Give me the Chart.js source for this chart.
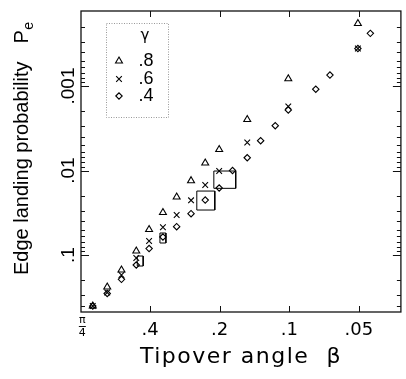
<!DOCTYPE html>
<html><head><meta charset="utf-8">
<script src="https://cdn.jsdelivr.net/npm/chart.js@4.4.1/dist/chart.umd.min.js"></script>
<style>html,body{margin:0;padding:0;background:#fff;overflow:hidden}canvas{display:block}</style>
</head><body>
<canvas id="c" width="406" height="379"></canvas>
<script>
// ---- data ----
const triBeta   = [0.708, 0.613, 0.532, 0.459, 0.404, 0.352, 0.307, 0.266, 0.231, 0.201, 0.152, 0.101, 0.0505];
const triP      = [0.402, 0.239, 0.1505, 0.0897, 0.0499, 0.0314, 0.0206, 0.0132, 0.00815, 0.00564, 0.00249, 0.00082, 0.000182];
const crossBeta = [0.708, 0.613, 0.532, 0.459, 0.404, 0.352, 0.307, 0.266, 0.231, 0.201, 0.152, 0.101, 0.0505];
const crossP    = [0.402, 0.278, 0.1725, 0.1085, 0.0683, 0.047, 0.0336, 0.02254, 0.01485, 0.01014, 0.00466, 0.00174, 0.00036];
const diamBeta  = [0.708, 0.613, 0.532, 0.459, 0.404, 0.352, 0.307, 0.266, 0.231, 0.201, 0.176, 0.152, 0.133, 0.115, 0.101, 0.0768, 0.0667, 0.0505, 0.0446];
const diamP     = [0.402, 0.2855, 0.194, 0.1313, 0.0838, 0.0612, 0.0462, 0.0324, 0.02235, 0.0161, 0.01, 0.00706, 0.00444, 0.00295, 0.00192, 0.00109, 0.000741, 0.00036, 0.000238];
// rectangles (experimental ranges)
const boxBetaHi = [0.4545, 0.3626, 0.2512, 0.212];
const boxBetaLo = [0.4285, 0.3418, 0.210, 0.1705];
const boxPLo    = [0.1028, 0.0549, 0.0175, 0.01014];
const boxPHi    = [0.135, 0.0721, 0.02935, 0.01625];
// legend
const seriesNames = ['.8', '.6', '.4'];
const legendTitle = 'γ';
// axes
const xTickValues = [Math.PI / 4, 0.4, 0.2, 0.1, 0.05];
const xTickLabels = ['', '.4', '.2', '.1', '.05'];
const yTickValues = [0.1, 0.01, 0.001];
const yTickLabels = ['.1', '.01', '.001'];
const xMin = 0.0329, xMax = 0.796;
const yMin = 1.294e-4, yMax = 0.4727;
const xTitle = 'Tipover angle  β';
const yTitle = 'Edge landing probability';

const pts = (xs, ys) => xs.map((x, i) => ({x: x, y: ys[i]}));
const boxDatasets = boxBetaHi.map((hi, i) => ({
  data: [{x: hi, y: boxPLo[i]}, {x: boxBetaLo[i], y: boxPLo[i]}, {x: boxBetaLo[i], y: boxPHi[i]}, {x: hi, y: boxPHi[i]}, {x: hi, y: boxPLo[i]}],
  showLine: true, borderColor: '#000', borderWidth: 1, pointRadius: 0, fill: false, tension: 0
}));
const markerBase = {borderColor: '#000', backgroundColor: 'rgba(0,0,0,0)', pointBorderColor: '#000', pointBackgroundColor: 'rgba(0,0,0,0)', pointBorderWidth: 1.1, showLine: false};

function drawMarker(ctx, style, x, y, r) {
  ctx.beginPath();
  if (style === 'triangle') {
    for (let k = 0; k < 3; k++) {
      const a = k * 2 * Math.PI / 3;
      const px = x + Math.sin(a) * r, py = y - Math.cos(a) * r;
      if (k === 0) ctx.moveTo(px, py); else ctx.lineTo(px, py);
    }
    ctx.closePath();
  } else if (style === 'crossRot') {
    const d = Math.cos(Math.PI / 4) * r;
    ctx.moveTo(x - d, y - d); ctx.lineTo(x + d, y + d);
    ctx.moveTo(x - d, y + d); ctx.lineTo(x + d, y - d);
  } else {
    ctx.moveTo(x - r, y); ctx.lineTo(x, y - r); ctx.lineTo(x + r, y); ctx.lineTo(x, y + r); ctx.closePath();
  }
  ctx.stroke();
}

const decor = {
  id: 'decor',
  afterDraw(chart) {
    const ctx = chart.ctx, a = chart.chartArea;
    const xs = chart.scales.x, ys = chart.scales.y;
    ctx.save();
    ctx.strokeStyle = '#111'; ctx.lineWidth = 1.3;
    ctx.strokeRect(a.left, a.top, a.right - a.left, a.bottom - a.top);
    ctx.lineWidth = 1;
    // x ticks (bottom and top)
    xTickValues.slice(1).forEach(v => {
      const px = Math.round(xs.getPixelForValue(v)) + 0.5;
      ctx.beginPath();
      ctx.moveTo(px, a.bottom); ctx.lineTo(px, a.bottom - 6);
      ctx.moveTo(px, a.top); ctx.lineTo(px, a.top + 6);
      ctx.stroke();
    });
    // y ticks major + minor (left and right)
    const yTicksAll = [];
    [1e-4, 1e-3, 1e-2, 1e-1].forEach(d => { for (let m = 1; m <= 9; m++) yTicksAll.push([m * d, m === 1]); });
    yTicksAll.forEach(([v, major]) => {
      if (v < yMin || v > yMax) return;
      const py = Math.round(ys.getPixelForValue(v)) + 0.5;
      const len = major ? 8 : 4;
      ctx.beginPath();
      ctx.moveTo(a.left, py); ctx.lineTo(a.left + len, py);
      ctx.moveTo(a.right, py); ctx.lineTo(a.right - len, py);
      ctx.stroke();
    });
    // pi/4 label
    ctx.fillStyle = '#000';
    const pxPi = xs.getPixelForValue(Math.PI / 4);
    ctx.font = '11px "DejaVu Sans"'; ctx.textAlign = 'center'; ctx.textBaseline = 'middle';
    ctx.fillText('π', pxPi, 320);
    ctx.fillText('4', pxPi, 333);
    ctx.beginPath(); ctx.moveTo(pxPi - 3.5, 326.5); ctx.lineTo(pxPi + 3.5, 326.5); ctx.stroke();
    // x title
    ctx.font = '22px "DejaVu Sans"'; ctx.textAlign = 'left'; ctx.textBaseline = 'alphabetic';
    try { ctx.letterSpacing = '1.5px'; } catch (e) {}
    const wX = ctx.measureText(xTitle).width;
    ctx.fillText(xTitle, (a.left + a.right) / 2 - wX / 2, 363);
    try { ctx.letterSpacing = '0px'; } catch (e) {}
    // y title
    ctx.save();
    ctx.translate(28, 275); ctx.rotate(-Math.PI / 2);
    ctx.font = '20px "Liberation Sans"';
    ctx.fillText(yTitle, 0, 0);
    const wY = ctx.measureText(yTitle).width;
    ctx.fillText('P', wY + 18, 0);
    const wP = ctx.measureText('P').width;
    ctx.font = '14px "Liberation Sans"';
    ctx.fillText('e', wY + 18 + wP + 0.5, 5);
    ctx.restore();
    // legend
    ctx.save();
    ctx.strokeStyle = '#999'; ctx.setLineDash([1, 1.5]); ctx.lineWidth = 1;
    ctx.strokeRect(106.5, 23.5, 62, 94);
    ctx.restore();
    ctx.font = '15px "DejaVu Sans"'; ctx.textAlign = 'center'; ctx.textBaseline = 'middle';
    ctx.fillText(legendTitle, 145, 36);
    const styles = ['triangle', 'crossRot', 'rectRot'];
    const radii = [4, 4, 3.2];
    const rowsY = [61, 79, 96];
    ctx.font = '18px "Liberation Sans"';
    seriesNames.forEach((n, i) => {
      ctx.strokeStyle = '#000'; ctx.lineWidth = 1.1;
      drawMarker(ctx, styles[i], 119, rowsY[i], radii[i]);
      ctx.fillText(n, 146, rowsY[i]);
    });
    ctx.restore();
  }
};

new Chart(document.getElementById('c'), {
  type: 'scatter',
  data: {
    datasets: [
      Object.assign({label: seriesNames[0], data: pts(triBeta, triP), pointStyle: 'triangle', pointRadius: 4}, markerBase),
      Object.assign({label: seriesNames[1], data: pts(crossBeta, crossP), pointStyle: 'crossRot', pointRadius: 4}, markerBase),
      Object.assign({label: seriesNames[2], data: pts(diamBeta, diamP), pointStyle: 'rectRot', pointRadius: 3.2}, markerBase),
      ...boxDatasets
    ]
  },
  options: {
    responsive: false, animation: false, devicePixelRatio: 1,
    layout: {padding: {top: 11, right: 1, left: 0, bottom: 0}},
    plugins: {legend: {display: false}, tooltip: {enabled: false}},
    scales: {
      x: {
        type: 'logarithmic', reverse: true, min: xMin, max: xMax,
        grid: {display: false, drawTicks: false}, border: {display: false},
        afterBuildTicks: s => { s.ticks = xTickValues.map(v => ({value: v})); },
        afterFit: s => { s.height = 67; },
        ticks: {autoSkip: false, minRotation: 0, maxRotation: 0, padding: 8, color: '#000',
          font: {family: 'DejaVu Sans', size: 18},
          callback: (v, i) => xTickLabels[i]}
      },
      y: {
        type: 'logarithmic', reverse: true, min: yMin, max: yMax,
        grid: {display: false, drawTicks: false}, border: {display: false},
        afterBuildTicks: s => { s.ticks = yTickValues.map(v => ({value: v})); },
        afterFit: s => { s.width = 81; },
        ticks: {autoSkip: false, minRotation: 90, maxRotation: 90, crossAlign: 'center', padding: -6.5, color: '#000',
          font: {family: 'Liberation Sans', size: 19},
          callback: (v, i) => yTickLabels[i]}
      }
    }
  },
  plugins: [decor]
});
</script>
</body></html>
